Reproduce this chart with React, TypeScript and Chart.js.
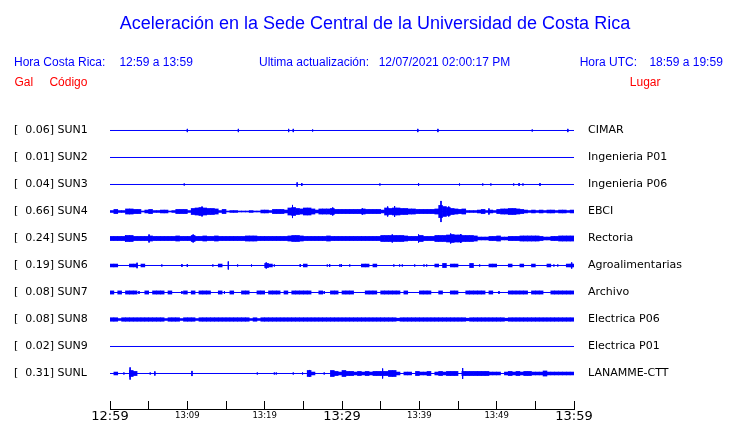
import React, { useEffect, useRef } from 'react';
import { Chart, registerables } from 'chart.js';

Chart.register(...registerables);

// ---------- DATA ----------
const stationCodes = ['SUN1', 'SUN2', 'SUN3', 'SUN4', 'SUN5', 'SUN6', 'SUN7', 'SUN8', 'SUN9', 'SUNL'];
const stationPeaks = [0.06, 0.01, 0.04, 0.66, 0.24, 0.19, 0.08, 0.08, 0.02, 0.31];
const stationPlaces = ['CIMAR', 'Ingenieria P01', 'Ingenieria P06', 'EBCI', 'Rectoria', 'Agroalimentarias', 'Archivo', 'Electrica P06', 'Electrica P01', 'LANAMME-CTT'];
const timeTickLabels = ['12:59', '13:09', '13:19', '13:29', '13:39', '13:49', '13:59'];

const titleText = 'Aceleración en la Sede Central de la Universidad de Costa Rica';
const headerBlue = [
  ['Hora Costa Rica:', 14],
  ['12:59 a 13:59', 119.4],
  ['Ultima actualización:', 259],
  ['12/07/2021 02:00:17 PM', 378.7],
  ['Hora UTC:', 579.7],
  ['18:59 a 19:59', 649.4],
];
const headerRed = [
  ['Gal', 14.4],
  ['Código', 49.4],
  ['Lugar', 629.8],
];

// 30-second envelopes (peak |acceleration| per bin, gal), 120 bins over the hour
const envSUN4 = [
  0.06, 0.13, 0.06, 0.06, 0.16, 0.16, 0.13, 0.13, 0.03, 0.09,
  0.13, 0.06, 0.06, 0.09, 0.09, 0.03, 0.06, 0.13, 0.13, 0.13,
  0.06, 0.19, 0.22, 0.25, 0.22, 0.19, 0.19, 0.16, 0.06, 0.13,
  0.03, 0.06, 0.06, 0.03, 0.03, 0.03, 0.06, 0.03, 0.03, 0.09,
  0.09, 0.06, 0.13, 0.13, 0.13, 0.09, 0.22, 0.25, 0.19, 0.16,
  0.22, 0.22, 0.16, 0.09, 0.16, 0.16, 0.16, 0.19, 0.13, 0.13,
  0.13, 0.13, 0.13, 0.13, 0.13, 0.16, 0.13, 0.13, 0.13, 0.13,
  0.09, 0.22, 0.19, 0.22, 0.22, 0.19, 0.19, 0.16, 0.16, 0.13,
  0.13, 0.13, 0.13, 0.13, 0.16, 0.38, 0.31, 0.25, 0.19, 0.16,
  0.13, 0.16, 0.06, 0.06, 0.06, 0.09, 0.13, 0.06, 0.09, 0.06,
  0.13, 0.16, 0.16, 0.19, 0.19, 0.16, 0.13, 0.09, 0.06, 0.09,
  0.06, 0.09, 0.06, 0.09, 0.09, 0.06, 0.09, 0.09, 0.06, 0.09,
];
const envSUN5 = [
  0.13, 0.13, 0.13, 0.13, 0.19, 0.19, 0.13, 0.13, 0.13, 0.13,
  0.16, 0.13, 0.13, 0.13, 0.13, 0.13, 0.13, 0.16, 0.13, 0.13,
  0.13, 0.19, 0.13, 0.13, 0.16, 0.13, 0.13, 0.16, 0.13, 0.13,
  0.13, 0.13, 0.13, 0.13, 0.13, 0.16, 0.16, 0.16, 0.13, 0.13,
  0.13, 0.13, 0.13, 0.13, 0.13, 0.13, 0.16, 0.19, 0.19, 0.16,
  0.13, 0.13, 0.13, 0.13, 0.13, 0.13, 0.16, 0.13, 0.13, 0.13,
  0.13, 0.13, 0.13, 0.13, 0.13, 0.13, 0.13, 0.13, 0.13, 0.13,
  0.19, 0.19, 0.19, 0.19, 0.19, 0.19, 0.16, 0.13, 0.13, 0.13,
  0.19, 0.13, 0.13, 0.13, 0.19, 0.19, 0.19, 0.22, 0.25, 0.22,
  0.22, 0.19, 0.19, 0.19, 0.16, 0.09, 0.09, 0.09, 0.13, 0.13,
  0.16, 0.09, 0.09, 0.13, 0.13, 0.13, 0.16, 0.16, 0.16, 0.16,
  0.16, 0.13, 0.09, 0.09, 0.13, 0.13, 0.16, 0.16, 0.16, 0.16,
];
const envSUN6 = [
  0.09, 0.09, 0, 0, 0, 0.09, 0.09, 0, 0.09, 0,
  0, 0, 0, 0, 0, 0, 0, 0, 0, 0,
  0, 0, 0, 0, 0, 0, 0, 0, 0.09, 0,
  0, 0, 0, 0, 0, 0, 0, 0, 0, 0,
  0.13, 0.09, 0, 0, 0, 0, 0, 0, 0, 0,
  0.09, 0, 0, 0, 0, 0, 0, 0, 0, 0,
  0, 0, 0, 0, 0, 0.09, 0.09, 0, 0.09, 0,
  0, 0, 0, 0, 0, 0, 0, 0, 0, 0,
  0, 0, 0, 0, 0.09, 0, 0.13, 0, 0.09, 0.09,
  0, 0, 0, 0.13, 0, 0, 0, 0, 0.09, 0.09,
  0, 0, 0, 0.09, 0, 0, 0.09, 0, 0, 0.09,
  0, 0, 0, 0.09, 0, 0, 0, 0, 0.09, 0.09,
];
const envSUN7 = [
  0.1, 0, 0.1, 0, 0.1, 0.1, 0.1, 0, 0, 0.1,
  0, 0.1, 0.1, 0.1, 0, 0.1, 0, 0, 0, 0.1,
  0, 0.1, 0, 0.1, 0.1, 0.1, 0, 0, 0.1, 0,
  0, 0.1, 0, 0, 0.1, 0.1, 0, 0, 0.1, 0.1,
  0, 0.1, 0.1, 0.1, 0, 0.1, 0, 0.1, 0.1, 0.1,
  0.1, 0.1, 0, 0, 0.1, 0, 0, 0.1, 0.1, 0,
  0.1, 0.1, 0.1, 0, 0, 0, 0.1, 0.1, 0.1, 0,
  0.1, 0.1, 0.1, 0.1, 0.1, 0, 0.1, 0, 0, 0,
  0.1, 0.1, 0.1, 0, 0, 0.1, 0, 0, 0.1, 0.1,
  0, 0, 0.1, 0.1, 0.1, 0.1, 0.1, 0, 0.1, 0,
  0, 0, 0, 0.1, 0.1, 0.1, 0.1, 0.1, 0, 0.1,
  0.1, 0.1, 0, 0, 0.1, 0.1, 0.1, 0.1, 0.1, 0.1,
];
const envSUN8 = [
  0.11, 0.11, 0.06, 0.11, 0.11, 0.11, 0.11, 0.11, 0.11, 0.11,
  0.11, 0.11, 0.11, 0.11, 0.06, 0.11, 0.11, 0.11, 0.06, 0.11,
  0.11, 0.11, 0.06, 0.11, 0.11, 0.11, 0.11, 0.11, 0.11, 0.11,
  0.11, 0.11, 0.11, 0.11, 0.11, 0.11, 0.06, 0.11, 0.06, 0.11,
  0.11, 0.11, 0.11, 0.11, 0.11, 0.11, 0.11, 0.11, 0.11, 0.11,
  0.11, 0.11, 0.11, 0.11, 0.11, 0.11, 0.11, 0.11, 0.11, 0.11,
  0.11, 0.11, 0.11, 0.11, 0.11, 0.11, 0.11, 0.11, 0.11, 0.11,
  0.11, 0.11, 0.11, 0.11, 0.08, 0.11, 0.11, 0.11, 0.11, 0.11,
  0.11, 0.11, 0.11, 0.11, 0.11, 0.11, 0.11, 0.11, 0.11, 0.11,
  0.11, 0.11, 0.08, 0.11, 0.11, 0.11, 0.11, 0.11, 0.11, 0.11,
  0.11, 0.11, 0.08, 0.11, 0.11, 0.11, 0.11, 0.11, 0.11, 0.11,
  0.11, 0.11, 0.11, 0.11, 0.11, 0.11, 0.11, 0.11, 0.11, 0.11,
];
const envSUNL = [
  0, 0.09, 0, 0, 0, 0.19, 0.13, 0, 0, 0,
  0, 0, 0, 0, 0, 0, 0, 0, 0, 0,
  0, 0, 0, 0, 0, 0, 0, 0, 0, 0,
  0, 0, 0, 0, 0, 0, 0, 0, 0, 0,
  0, 0, 0, 0, 0, 0, 0, 0, 0, 0,
  0, 0.19, 0.09, 0, 0, 0, 0, 0.19, 0.13, 0.09,
  0.19, 0.13, 0.13, 0.09, 0.13, 0.09, 0.13, 0.09, 0.13, 0.13,
  0.13, 0.13, 0.19, 0.19, 0.09, 0, 0.09, 0.09, 0, 0.13,
  0.09, 0.09, 0.13, 0, 0.09, 0.13, 0.09, 0.13, 0.13, 0.13,
  0, 0.13, 0.13, 0.13, 0.13, 0.13, 0.13, 0.13, 0.09, 0.09,
  0.09, 0, 0.09, 0.13, 0.09, 0.13, 0.09, 0.13, 0.13, 0.09,
  0.09, 0.09, 0.16, 0.09, 0.09, 0.09, 0.09, 0.09, 0.09, 0.09,
];

// isolated peaks: [minute after 12:59, gal]
const spikesSUN1 = [[10.0, 0.1], [16.6, 0.1], [23.1, 0.1], [23.7, 0.1], [26.2, 0.06], [39.8, 0.1], [42.4, 0.1], [54.6, 0.06], [59.2, 0.1]];
const spikesSUN3 = [[9.6, 0.06], [24.2, 0.13], [24.8, 0.09], [34.9, 0.06], [39.9, 0.09], [45.2, 0.06], [48.2, 0.06], [49.25, 0.06], [52.2, 0.06], [52.9, 0.09], [53.4, 0.06], [55.6, 0.09]];
const spikesSUN4 = [[11.9, 0.31], [23.6, 0.41], [28.8, 0.25], [32.65, 0.19], [35.9, 0.31], [36.8, 0.34], [42.8, 0.66], [43.8, 0.31], [49.0, 0.19]];
const spikesSUN5 = [[2.0, 0.19], [5.05, 0.25], [10.75, 0.25], [36.5, 0.25], [39.9, 0.25], [44.05, 0.31], [45.35, 0.28]];
const spikesSUN6 = [[3.5, 0.17], [6.7, 0.06], [9.3, 0.09], [10.0, 0.09], [13.3, 0.06], [15.3, 0.25], [16.5, 0.06], [18.3, 0.06], [20.2, 0.19], [21.25, 0.06], [24.6, 0.09], [28.1, 0.06], [28.4, 0.09], [29.7, 0.06], [29.9, 0.09], [31.0, 0.06], [36.7, 0.06], [37.45, 0.06], [37.8, 0.06], [39.4, 0.06], [40.6, 0.06], [40.95, 0.06], [47.8, 0.06], [57.4, 0.06], [57.9, 0.06], [59.7, 0.19]];
const spikesSUN7 = [[3.75, 0.09], [9.3, 0.09], [14.8, 0.09], [27.7, 0.09], [50.3, 0.09]];
const spikesSUNL = [[1.8, 0.06], [2.6, 0.38], [5.2, 0.06], [5.8, 0.13], [10.6, 0.16], [19.05, 0.06], [21.25, 0.06], [21.5, 0.06], [23.7, 0.06], [24.9, 0.06], [25.8, 0.22], [27.7, 0.06], [35.25, 0.31], [45.6, 0.34], [59.9, 0.06]];

const envelopes = [null, null, null, envSUN4, envSUN5, envSUN6, envSUN7, envSUN8, null, envSUNL];
const spikeLists = [spikesSUN1, [], spikesSUN3, spikesSUN4, spikesSUN5, spikesSUN6, spikesSUN7, [], [], spikesSUNL];

// ---------- STYLE ----------
const BLUE = '#0000ff';
const RED = '#ff0000';
const BIN_MINUTES = 0.5;
const TRACE_GAIN = 16 / 27; // rows per gal

function buildDatasets() {
  const ds: any[] = [];
  stationCodes.forEach((_, i) => {
    ds.push({
      type: 'line',
      data: [{ x: 0, y: i }, { x: 60, y: i }],
      borderColor: BLUE,
      borderWidth: 1,
      pointRadius: 0,
      tension: 0,
    });
    const env = envelopes[i];
    if (env) {
      const pts: any[] = [];
      env.forEach((a, j) => {
        if (a > 0) pts.push({ x: (j + 0.5) * BIN_MINUTES, y: [i - a * TRACE_GAIN, i + a * TRACE_GAIN] });
      });
      ds.push({
        type: 'bar',
        data: pts,
        backgroundColor: BLUE,
        borderWidth: 0,
        grouped: false,
        barPercentage: 1,
        categoryPercentage: 1,
      });
    }
    const sp = spikeLists[i];
    if (sp.length) {
      const pts: any[] = [];
      sp.forEach(([t, a]) => {
        pts.push({ x: t, y: i - a * TRACE_GAIN });
        pts.push({ x: t, y: i + a * TRACE_GAIN });
        pts.push({ x: t, y: null });
      });
      ds.push({
        type: 'line',
        data: pts,
        borderColor: BLUE,
        borderWidth: 1,
        pointRadius: 0,
        spanGaps: false,
        tension: 0,
      });
    }
  });
  return ds;
}

const headerPlugin = {
  id: 'headerTexts',
  afterDraw(chart: any) {
    const ctx = chart.ctx;
    ctx.save();
    ctx.textBaseline = 'alphabetic';
    ctx.fillStyle = BLUE;
    ctx.font = '18px "Liberation Sans", Arial, sans-serif';
    ctx.textAlign = 'center';
    ctx.fillText(titleText, 375, 29);
    ctx.textAlign = 'left';
    ctx.font = '12px "Liberation Sans", Arial, sans-serif';
    headerBlue.forEach(([t, x]) => ctx.fillText(t as string, x as number, 66));
    ctx.fillStyle = RED;
    headerRed.forEach(([t, x]) => ctx.fillText(t as string, x as number, 86));
    ctx.restore();
  },
};

const rowTicks = (scale: any) => {
  scale.ticks = stationCodes.map((_, i) => ({ value: i }));
};
const noPad = (s: any) => {
  s.paddingTop = 0;
  s.paddingBottom = 0;
  s.paddingLeft = 0;
  s.paddingRight = 0;
};

export default function App() {
  const ref = useRef<HTMLCanvasElement | null>(null);
  useEffect(() => {
    if (!ref.current) return;
    const chart = new Chart(ref.current, {
      type: 'line',
      data: { datasets: buildDatasets() },
      plugins: [headerPlugin],
      options: {
        animation: false,
        responsive: false,
        events: [],
        layout: { padding: { left: 14, top: 117, right: 0, bottom: 0 } },
        plugins: { legend: { display: false }, tooltip: { enabled: false }, title: { display: false } },
        scales: {
          x: {
            type: 'linear',
            min: 0,
            max: 60,
            offset: false,
            grid: { offset: false, drawOnChartArea: false, drawTicks: true, tickLength: -8, color: '#000', lineWidth: 1 },
            border: { display: true, color: '#000', width: 1 },
            afterFit: (s: any) => { s.height = 14; noPad(s); },
            ticks: {
              stepSize: 5,
              autoSkip: false,
              maxRotation: 0,
              minRotation: 0,
              padding: 7.7,
              color: '#000',
              font: (c: any) => {
                const v = c.tick ? c.tick.value : 0;
                return v % 30 === 0
                  ? { family: 'DejaVu Sans', size: 13, lineHeight: 1.2 }
                  : { family: 'DejaVu Sans', size: 8.5, lineHeight: 1.72 };
              },
              callback: (v: any) => (Number(v) % 10 === 0 ? timeTickLabels[Number(v) / 10] : ''),
            },
          },
          y: {
            type: 'linear',
            position: 'left',
            min: -0.5,
            max: 10.315,
            reverse: true,
            grid: { display: false, drawTicks: false },
            border: { display: false },
            afterBuildTicks: rowTicks,
            afterFit: (s: any) => { s.width = 96; noPad(s); },
            ticks: {
              crossAlign: 'far',
              padding: 0,
              autoSkip: false,
              color: '#000',
              font: { family: 'DejaVu Sans', size: 11 },
              callback: (v: any) => {
                const i = Math.round(Number(v));
                return '[' + stationPeaks[i].toFixed(2).padStart(6, ' ') + '] ' + stationCodes[i];
              },
            },
          },
          y2: {
            type: 'linear',
            position: 'right',
            min: -0.5,
            max: 10.315,
            reverse: true,
            grid: { display: false, drawTicks: false },
            border: { display: false },
            afterBuildTicks: rowTicks,
            afterFit: (s: any) => { s.width = 166; noPad(s); },
            ticks: {
              padding: 14,
              autoSkip: false,
              color: '#000',
              font: { family: 'DejaVu Sans', size: 11 },
              callback: (v: any) => stationPlaces[Math.round(Number(v))],
            },
          },
        },
      } as any,
    });
    return () => chart.destroy();
  }, []);
  return (
    <div style={{ position: 'absolute', left: 0, top: 0, width: 740, height: 423, background: '#fff' }}>
      <canvas ref={ref} width={740} height={423} />
    </div>
  );
}
